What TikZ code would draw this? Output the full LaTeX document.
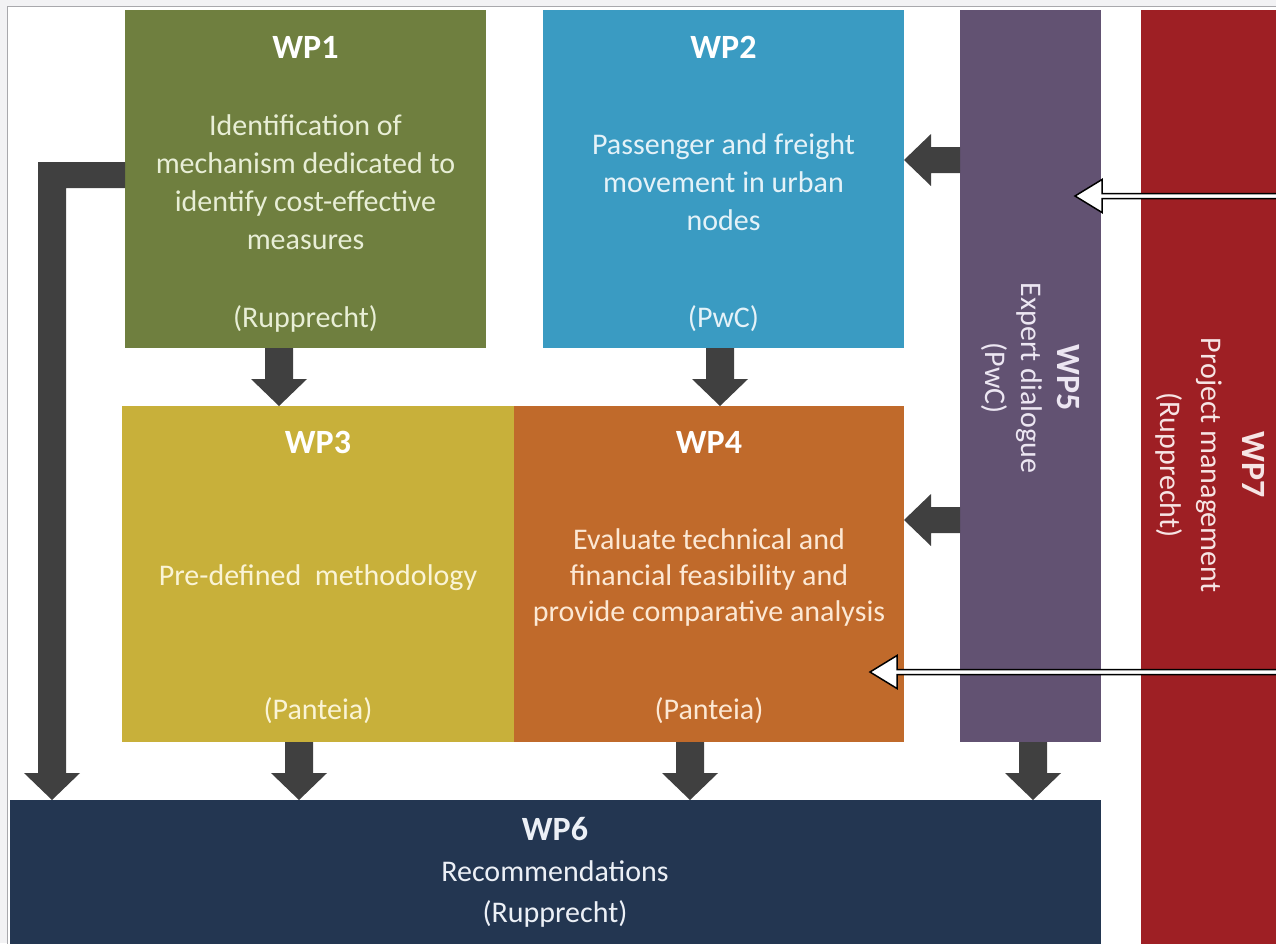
\documentclass[tikz,border=0pt]{standalone}
\usepackage{fontspec}
\setmainfont{Carlito}
\usetikzlibrary{calc}
\definecolor{cwpone}{HTML}{6F7F3F}
\definecolor{cwptwo}{HTML}{3A9BC2}
\definecolor{cwpthree}{HTML}{C8B03A}
\definecolor{cwpfour}{HTML}{C06A2B}
\definecolor{cwpfive}{HTML}{625272}
\definecolor{cwpsix}{HTML}{233651}
\definecolor{cwpseven}{HTML}{9E1F24}
\definecolor{carrow}{HTML}{404040}
\definecolor{cbg}{HTML}{F2F2F4}
\definecolor{cframe}{HTML}{A8A8AC}
\tikzset{
  wpbox/.style={rectangle, draw=none, inner sep=0pt, outer sep=0pt, anchor=north west},
  wptitle/.style={text=white, font=\fontsize{34}{40}\bfseries\selectfont, inner sep=0pt},
  wptext/.style={font=\fontsize{30}{38}\selectfont, align=center, inner sep=0pt},
  arr/.style={fill=carrow},
  warr/.style={fill=white, draw=black, line width=1.5pt, line join=miter},
  bdown/.style={to path={let \p1=(\tikztostart), \p2=(\tikztotarget) in
    (\x1-14pt,\y1) -- (\x1+14pt,\y1) -- (\x1+14pt,\y2+27pt) -- (\x1+28pt,\y2+27pt)
    -- (\x1,\y2) -- (\x1-28pt,\y2+27pt) -- (\x1-14pt,\y2+27pt) -- cycle}},
  bleft/.style={to path={let \p1=(\tikztostart), \p2=(\tikztotarget) in
    (\x1,\y1+13pt) -- (\x2+27pt,\y1+13pt) -- (\x2+27pt,\y1+26pt) -- (\x2,\y1)
    -- (\x2+27pt,\y1-26pt) -- (\x2+27pt,\y1-13pt) -- (\x1,\y1-13pt) -- cycle}},
  wleft/.style={to path={let \p1=(\tikztostart), \p2=(\tikztotarget) in
    (\x1,\y1+2.5pt) -- (\x2+27pt,\y1+2.5pt) -- (\x2+27pt,\y1+16.5pt) -- (\x2,\y1)
    -- (\x2+27pt,\y1-16.5pt) -- (\x2+27pt,\y1-2.5pt) -- (\x1,\y1-2.5pt)}}
}
\begin{document}
\begin{tikzpicture}[x=1pt,y=-1pt]
\useasboundingbox (0,0) rectangle (1276,943);
\fill[cbg] (0,0) rectangle (1276,943);
\draw[cframe, fill=white, line width=0.8pt] (7,6) rectangle (1300,960);

% boxes
\node[wpbox, fill=cwpone, minimum width=361pt, minimum height=338pt] (wp1) at (125,10) {};
\node[wpbox, fill=cwptwo, minimum width=361pt, minimum height=338pt] (wp2) at (543,10) {};
\node[wpbox, fill=cwpfive, minimum width=141pt, minimum height=732pt] (wp5) at (960,10) {};
\node[wpbox, fill=cwpseven, minimum width=150pt, minimum height=945pt] (wp7) at (1141,10) {};
\node[wpbox, fill=cwpthree, minimum width=392pt, minimum height=336pt] (wp3) at (122,406) {};
\node[wpbox, fill=cwpfour, minimum width=390pt, minimum height=336pt] (wp4) at (514,406) {};
\node[wpbox, fill=cwpsix, minimum width=1091pt, minimum height=145pt] (wp6) at (10,800) {};

% texts WP1
\node[wptitle] (t1) at (305.5,47) {WP1};
\node[wptext, text={rgb,255:red,232;green,238;blue,214}] (b1) at (305.5,182) {Identification of\\mechanism dedicated to\\identify cost-effective\\measures};
\node[wptext, text={rgb,255:red,232;green,238;blue,214}] (a1) at (305.5,319) {(Rupprecht)};
% WP2
\node[wptitle] (t2) at (723.5,47) {WP2};
\node[wptext, text={rgb,255:red,228;green,242;blue,248}] (b2) at (723.5,182) {Passenger and freight\\movement in urban\\nodes};
\node[wptext, text={rgb,255:red,228;green,242;blue,248}] (a2) at (723.5,319) {(PwC)};
% WP3
\node[wptitle] (t3) at (318,442) {WP3};
\node[wptext, text={rgb,255:red,250;green,244;blue,214}] (b3) at (318,578) {Pre-defined\ \ methodology};
\node[wptext, text={rgb,255:red,250;green,244;blue,214}] (a3) at (318,711) {(Panteia)};
% WP4
\node[wptitle] (t4) at (709,442) {WP4};
\node[wptext, font=\fontsize{30}{36}\selectfont, text={rgb,255:red,252;green,232;blue,212}] (b4) at (709,577) {Evaluate technical and\\financial feasibility and\\provide comparative analysis};
\node[wptext, text={rgb,255:red,252;green,232;blue,212}] (a4) at (709,711) {(Panteia)};
% WP5
\node[wptext, rotate=-90, font=\fontsize{30}{36}\selectfont, text={rgb,255:red,236;green,230;blue,242}] (b5) at (1030,378) {\textbf{\fontsize{34}{36}\selectfont WP5}\\Expert dialogue\\(PwC)};
% WP7
\node[wptext, rotate=-90, font=\fontsize{30}{41}\selectfont, text={rgb,255:red,246;green,228;blue,228}] (b7) at (1210,465) {\textbf{\fontsize{34}{41}\selectfont WP7}\\Project management\\(Rupprecht)};
% WP6
\node[wptext, font=\fontsize{30}{41}\selectfont, text={rgb,255:red,236;green,240;blue,246}] (b6) at (555,872) {\textbf{\fontsize{34}{41}\selectfont WP6}\\Recommendations\\(Rupprecht)};

% arrow coordinates
\coordinate (x13) at (279,0);
\coordinate (x24) at (720,0);
\coordinate (x36) at (299,0);
\coordinate (x46) at (690,0);
\coordinate (x56) at (1033,0);
\coordinate (y52) at (0,160);
\coordinate (y54) at (0,520);
\coordinate (e1) at (52,175);
\coordinate (r1) at (1300,196);
\coordinate (h1) at (1075,196);
\coordinate (r2) at (1300,672);
\coordinate (h2) at (870,672);

% dark block arrows
\fill[arr] (wp1.south -| x13) to[bdown] (wp3.north -| x13);
\fill[arr] (wp2.south -| x24) to[bdown] (wp4.north -| x24);
\fill[arr] (wp3.south -| x36) to[bdown] (wp6.north -| x36);
\fill[arr] (wp4.south -| x46) to[bdown] (wp6.north -| x46);
\fill[arr] (wp5.south -| x56) to[bdown] (wp6.north -| x56);
\fill[arr] (wp5.west |- y52) to[bleft] (wp2.east |- y52);
\fill[arr] (wp5.west |- y54) to[bleft] (wp4.east |- y54);
\fill[arr] let \p1=(wp1.west |- e1), \p2=(e1), \p3=(wp6.north -| e1) in
  (\x1,\y1+13pt) -- (\x2-14pt,\y1+13pt) -- (\x2-14pt,\y3+27pt) -- (\x2-28pt,\y3+27pt)
  -- (\x2,\y3) -- (\x2+28pt,\y3+27pt) -- (\x2+14pt,\y3+27pt) -- (\x2+14pt,\y1-13pt)
  -- (\x1,\y1-13pt) -- cycle;

% white outlined arrows from WP7
\filldraw[warr] (r1) to[wleft] (h1);
\filldraw[warr] (r2) to[wleft] (h2);
\end{tikzpicture}
\end{document}
